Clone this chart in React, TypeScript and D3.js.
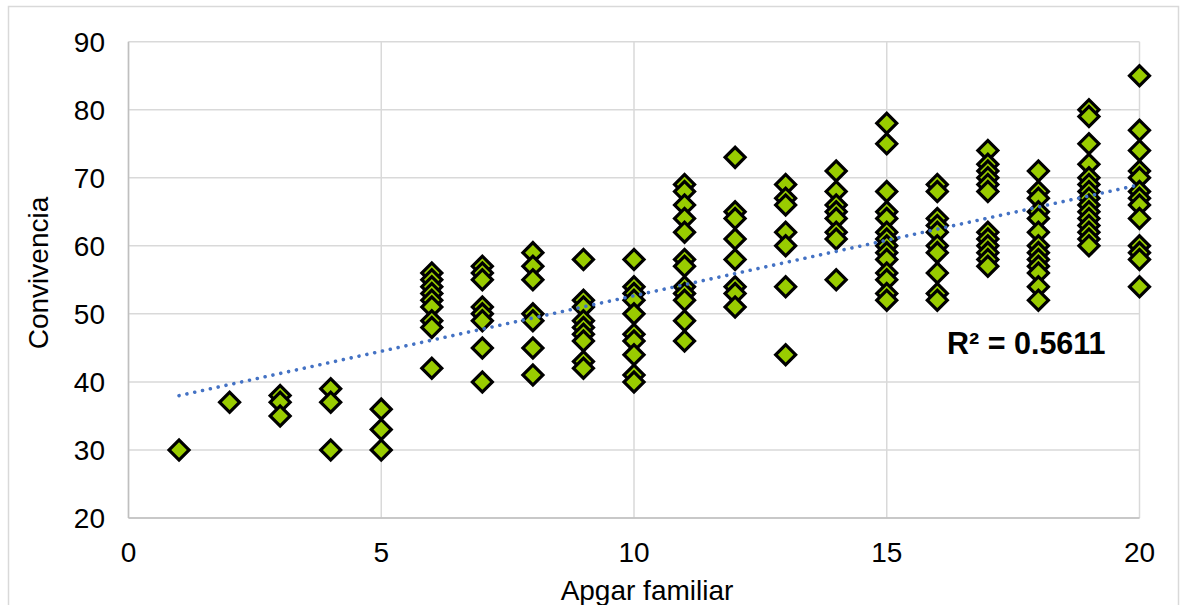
import React from "react";
import * as d3 from "d3";

const apgarValues: number[] = [1, 2, 3, 4, 5, 6, 7, 8, 9, 10, 11, 12, 13, 14, 15, 16, 17, 18, 19, 20];
const convivenciaByApgar: number[][] = [
  [30],
  [37],
  [38, 37, 35],
  [39, 37, 30],
  [36, 33, 30],
  [56, 55, 54, 53, 52, 51, 49, 48, 42],
  [57, 56, 55, 51, 50, 49, 45, 40],
  [59, 57, 55, 50, 49, 45, 41],
  [58, 52, 51, 49, 48, 47, 46, 43, 42],
  [58, 54, 53, 52, 50, 47, 46, 44, 41, 40],
  [69, 68, 66, 64, 62, 58, 57, 54, 53, 52, 49, 46],
  [73, 65, 64, 61, 58, 54, 53, 51],
  [69, 67, 66, 62, 60, 54, 44],
  [71, 68, 66, 65, 64, 62, 61, 55],
  [78, 75, 68, 65, 64, 62, 61, 60, 59, 58, 56, 55, 53, 52],
  [69, 68, 64, 63, 62, 60, 59, 56, 53, 52],
  [74, 72, 71, 70, 69, 68, 62, 61, 60, 59, 58, 57],
  [71, 68, 67, 65, 64, 62, 60, 59, 58, 57, 56, 54, 52],
  [80, 79, 75, 72, 70, 69, 68, 67, 66, 65, 64, 63, 62, 61, 60],
  [85, 77, 74, 71, 70, 68, 67, 66, 64, 60, 59, 58, 54],
];
const xTicks: number[] = [0, 5, 10, 15, 20];
const yTicks: number[] = [20, 30, 40, 50, 60, 70, 80, 90];
const xTitle = "Apgar familiar";
const yTitle = "Convivencia";
const r2Label = "R² = 0.5611";

const W = 1183;
const H = 605;
const FONT = "'Liberation Sans', Arial, sans-serif";

export default function App() {
  const points = apgarValues.flatMap((x, i) => convivenciaByApgar[i].map((y) => ({ x, y })));

  const xScale = d3.scaleLinear().domain([0, 20]).range([128.5, 1139.5]);
  const yScale = d3.scaleLinear().domain([20, 90]).range([518, 41.7]);

  // least squares trend line
  const mx = d3.mean(points, (p) => p.x) as number;
  const my = d3.mean(points, (p) => p.y) as number;
  const sxy = d3.sum(points, (p) => (p.x - mx) * (p.y - my));
  const sxx = d3.sum(points, (p) => (p.x - mx) * (p.x - mx));
  const slope = sxy / sxx;
  const intercept = my - slope * mx;
  const [x0, x1] = d3.extent(points, (p) => p.x) as [number, number];
  const trend = d3
    .line<number>()
    .x((x) => xScale(x))
    .y((x) => yScale(intercept + slope * x))([x0, x1]);

  const diamond = d3.symbol().type(d3.symbolSquare).size(200)() as string;

  return (
    <svg
      width={W}
      height={H}
      style={{ position: "absolute", left: 0, top: 0, background: "#fff" }}
      fontFamily={FONT}
    >
      <rect x={8.5} y={6.5} width={1170} height={620} fill="#fff" stroke="#d9d9d9" strokeWidth={1.5} />
      {yTicks.map((t) => (
        <line key={"gy" + t} x1={xScale(0)} x2={xScale(20)} y1={yScale(t)} y2={yScale(t)} stroke="#d9d9d9" strokeWidth={1.5} />
      ))}
      {xTicks.map((t) => (
        <line key={"gx" + t} x1={xScale(t)} x2={xScale(t)} y1={yScale(20)} y2={yScale(90)} stroke="#d9d9d9" strokeWidth={1.5} />
      ))}
      <line x1={xScale(0)} x2={xScale(0)} y1={yScale(20)} y2={yScale(90)} stroke="#bfbfbf" strokeWidth={1.5} />
      <line x1={xScale(0)} x2={xScale(20)} y1={yScale(20)} y2={yScale(20)} stroke="#bfbfbf" strokeWidth={1.5} />
      {yTicks.map((t) => (
        <text key={"ty" + t} x={105} y={yScale(t)} dy="0.35em" textAnchor="end" fontSize={28} fill="#000">
          {t}
        </text>
      ))}
      {xTicks.map((t) => (
        <text key={"tx" + t} x={xScale(t)} y={562} textAnchor="middle" fontSize={28} fill="#000">
          {t}
        </text>
      ))}
      <text x={647} y={600} textAnchor="middle" fontSize={28} fill="#000">
        {xTitle}
      </text>
      <text transform={`translate(48,273) rotate(-90)`} textAnchor="middle" fontSize={28} fill="#000">
        {yTitle}
      </text>
      <g>
        {points.map((p, i) => (
          <path
            key={i}
            d={diamond}
            transform={`translate(${xScale(p.x)},${yScale(p.y)}) rotate(45)`}
            fill="#99cc00"
            stroke="#000"
            strokeWidth={3.2}
          />
        ))}
      </g>
      <path d={trend as string} fill="none" stroke="#4472c4" strokeWidth={3.6} strokeLinecap="round" strokeDasharray="0.01 8" />
      <text x={947} y={354} fontSize={30.5} fontWeight="bold" fill="#000">
        {r2Label}
      </text>
    </svg>
  );
}
